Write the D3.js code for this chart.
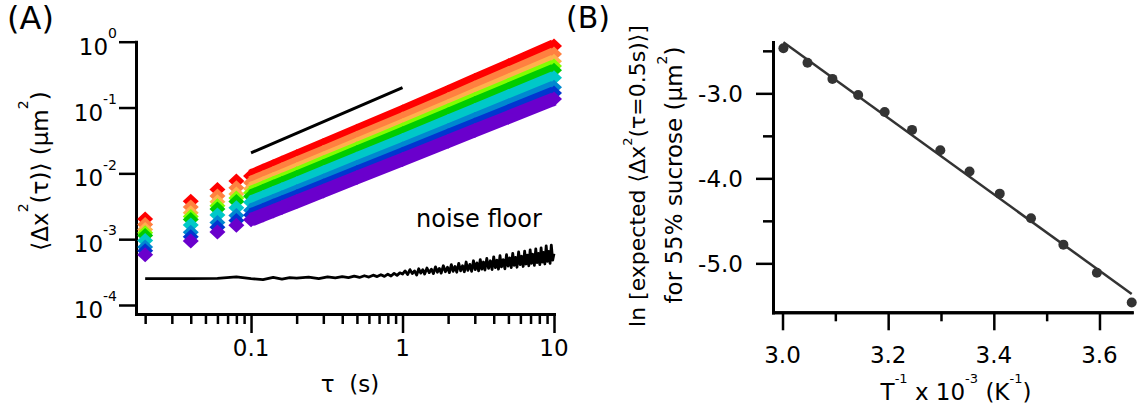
<!DOCTYPE html>
<html>
<head>
<meta charset="utf-8">
<script src="https://cdn.jsdelivr.net/npm/d3@7"></script>
<style>
  body { margin: 0; background: #fff; }
  svg { display: block; font-family: "DejaVu Sans", sans-serif; }
</style>
</head>
<body>
<script>
// ---- panel A : MSD vs lag time ----
var tau = [0.02, 0.04, 0.06, 0.08, 0.1, 0.12, 0.14, 0.16, 0.2, 0.3, 0.5, 1, 2, 3, 5, 10];
var msdRed      = [2.02e-3, 3.78e-3, 5.68e-3, 7.62e-3, 9.08e-3, 1.084e-2, 1.259e-2, 1.436e-2, 1.782e-2, 2.649e-2, 4.355e-2, 8.55e-2, 0.171, 0.258, 0.430, 0.861];
var msdOrange   = [1.675e-3, 3.07e-3, 4.54e-3, 6.04e-3, 7.21e-3, 8.61e-3, 9.98e-3, 1.138e-2, 1.409e-2, 2.084e-2, 3.42e-2, 6.67e-2, 0.132, 0.198, 0.328, 0.652];
var msdLtOrange = [1.406e-3, 2.52e-3, 3.69e-3, 4.86e-3, 5.82e-3, 6.93e-3, 8.04e-3, 9.14e-3, 1.132e-2, 1.671e-2, 2.72e-2, 5.28e-2, 0.104, 0.155, 0.255, 0.504];
var msdLtGreen  = [1.256e-3, 2.22e-3, 3.23e-3, 4.24e-3, 5.08e-3, 6.04e-3, 7.00e-3, 7.94e-3, 9.82e-3, 1.445e-2, 2.355e-2, 4.55e-2, 8.91e-2, 0.132, 0.217, 0.426];
var msdGreen    = [1.138e-3, 1.99e-3, 2.87e-3, 3.74e-3, 4.50e-3, 5.35e-3, 6.18e-3, 7.01e-3, 8.67e-3, 1.274e-2, 2.07e-2, 3.99e-2, 7.76e-2, 0.115, 0.188, 0.367];
var msdCyan     = [9.55e-4, 1.637e-3, 2.33e-3, 3.01e-3, 3.63e-3, 4.31e-3, 4.98e-3, 5.64e-3, 6.95e-3, 1.019e-2, 1.648e-2, 3.16e-2, 6.11e-2, 8.99e-2, 0.147, 0.283];
var msdBlue     = [7.62e-4, 1.274e-3, 1.786e-3, 2.28e-3, 2.75e-3, 3.27e-3, 3.77e-3, 4.27e-3, 5.25e-3, 7.66e-3, 1.233e-2, 2.34e-2, 4.49e-2, 6.56e-2, 0.106, 0.203];
var msdDkBlue   = [6.65e-4, 1.091e-3, 1.517e-3, 1.923e-3, 2.33e-3, 2.75e-3, 3.18e-3, 3.59e-3, 4.42e-3, 6.43e-3, 1.030e-2, 1.954e-2, 3.72e-2, 5.42e-2, 8.71e-2, 0.166];
var msdPurple   = [5.79e-4, 9.35e-4, 1.288e-3, 1.622e-3, 1.968e-3, 2.33e-3, 2.68e-3, 3.03e-3, 3.72e-3, 5.40e-3, 8.63e-3, 1.629e-2, 3.08e-2, 4.47e-2, 7.14e-2, 0.135];
var seriesA = [msdRed, msdOrange, msdLtOrange, msdLtGreen, msdGreen, msdCyan, msdBlue, msdDkBlue, msdPurple];
var colorsA = ["#ff0000", "#ff8040", "#ffb04c", "#80ff00", "#00cc00", "#00c8c8", "#0088d0", "#0036d0", "#6a00cc"];

// slope-1 guide line
var refTau = [0.1, 1];
var refMsd = [0.0205, 0.2];

// noise floor
var noiseTau = [0.02, 0.04, 0.06, 0.08, 0.10, 0.12, 0.14, 0.16, 0.18, 0.20, 0.24, 0.28, 0.32, 0.36, 0.40, 0.44, 0.48, 0.52, 0.56, 0.60,
  0.64, 0.68, 0.72, 0.76, 0.80, 0.84, 0.88, 0.92, 0.96,
  1.00, 1.04, 1.08, 1.12, 1.16, 1.20, 1.24, 1.28, 1.32, 1.36, 1.40, 1.45, 1.50, 1.55, 1.60, 1.65, 1.70, 1.75, 1.80, 1.86,
  1.92, 1.98, 2.04, 2.10, 2.16, 2.22, 2.28, 2.35, 2.42, 2.49, 2.56, 2.63, 2.70, 2.78, 2.86, 2.94, 3.02, 3.10, 3.18, 3.26,
  3.34, 3.42, 3.50, 3.60, 3.70, 3.80, 3.90, 4.00, 4.10, 4.20, 4.30, 4.40, 4.50, 4.62, 4.74, 4.86, 4.98, 5.10, 5.22, 5.34,
  5.46, 5.58, 5.70, 5.84, 5.98, 6.12, 6.26, 6.40, 6.54, 6.68, 6.82, 6.96, 7.10, 7.26, 7.42, 7.58, 7.74, 7.90, 8.06, 8.22,
  8.38, 8.54, 8.70, 8.88, 9.06, 9.24, 9.42, 9.60, 9.80, 10.0];
var noiseMsd = [2.52e-4, 2.52e-4, 2.54e-4, 2.68e-4, 2.52e-4, 2.43e-4, 2.63e-4, 2.47e-4, 2.60e-4, 2.56e-4, 2.66e-4, 2.52e-4, 2.68e-4, 2.58e-4, 2.70e-4, 2.60e-4, 2.74e-4, 2.62e-4, 2.78e-4, 2.66e-4,
  2.84e-4, 2.70e-4, 2.88e-4, 2.72e-4, 2.94e-4, 2.76e-4, 3.02e-4, 2.82e-4, 3.08e-4,
  2.95e-4, 3.3e-4, 2.9e-4, 3.45e-4, 3.0e-4, 3.3e-4, 2.85e-4, 3.55e-4, 3.05e-4, 3.45e-4, 2.95e-4, 3.65e-4, 3.1e-4, 3.5e-4, 3.0e-4, 3.8e-4, 3.15e-4, 3.6e-4, 3.05e-4, 3.95e-4,
  3.2e-4, 3.75e-4, 3.1e-4, 4.1e-4, 3.25e-4, 3.85e-4, 3.15e-4, 4.3e-4, 3.3e-4, 3.95e-4, 3.2e-4, 4.5e-4, 3.35e-4, 4.15e-4, 3.25e-4, 4.7e-4, 3.45e-4, 4.35e-4, 3.3e-4, 4.9e-4,
  3.5e-4, 4.5e-4, 3.4e-4, 5.1e-4, 3.6e-4, 4.7e-4, 3.45e-4, 5.4e-4, 3.7e-4, 4.8e-4, 3.5e-4, 5.6e-4, 3.8e-4, 4.9e-4, 3.55e-4, 5.8e-4, 3.9e-4, 5.2e-4, 3.7e-4, 6.1e-4,
  4.0e-4, 5.3e-4, 3.75e-4, 6.4e-4, 4.1e-4, 5.5e-4, 3.85e-4, 6.6e-4, 4.2e-4, 5.7e-4, 3.95e-4, 6.9e-4, 4.3e-4, 5.9e-4, 4.0e-4, 7.1e-4, 4.4e-4, 6.1e-4, 4.1e-4, 7.4e-4,
  4.5e-4, 6.3e-4, 4.2e-4, 7.9e-4, 4.6e-4, 6.5e-4, 4.3e-4, 8.1e-4, 4.8e-4, 6.0e-4];

var xTicksA = [0.1, 1, 10];
var xLabelsA = ["0.1", "1", "10"];
var yTicksA = [1, 0.1, 0.01, 0.001, 0.0001];
var yExpA = ["0", "-1", "-2", "-3", "-4"];

// ---- panel B : Arrhenius plot ----
var invT = [3.0017, 3.0473, 3.0945, 3.1432, 3.1934, 3.2452, 3.2987, 3.3540, 3.4112, 3.4704, 3.5317, 3.5951, 3.6610];
var lnMsd = [-2.47, -2.64, -2.83, -3.02, -3.22, -3.43, -3.67, -3.92, -4.18, -4.47, -4.78, -5.11, -5.46];
var fitX = [3.0017, 3.661];
var fitY = [-2.40, -5.36];
var xTicksB = [3.0, 3.2, 3.4, 3.6];
var xMinorB = [3.1, 3.3, 3.5];
var yTicksB = [-3.0, -4.0, -5.0];
var yMinorB = [-2.5, -3.5, -4.5];

var svg = d3.select("body").append("svg")
  .attr("width", 1147)
  .attr("height", 413);

// text with superscripts: parts = [text, fontSize, rise]
function richText(sel, parts) {
  var shift = 0;
  parts.forEach(function(p) {
    var rise = p[2] || 0;
    sel.append("tspan")
      .attr("dy", shift - rise)
      .attr("font-size", p[1] || null)
      .text(p[0]);
    shift = rise;
  });
  return sel;
}

function styleAxis(g) {
  g.select(".domain").attr("stroke-width", 3).attr("stroke-linecap", "square");
  g.selectAll(".tick line").attr("stroke-width", 2.5);
}

// ================= panel A =================
var xA = d3.scaleLog().domain([0.0174, 10]).range([136, 554]);
var yA = d3.scaleLog().domain([7.3e-5, 1]).range([314, 41.7]);

var minorA = xA.ticks().filter(function(t) { return xTicksA.indexOf(t) < 0; });

svg.append("g").attr("transform", "translate(0,314)")
  .call(d3.axisBottom(xA).tickValues(minorA).tickSize(10).tickSizeOuter(0).tickFormat(""))
  .call(styleAxis);
svg.append("g").attr("transform", "translate(0,314)")
  .call(d3.axisBottom(xA).tickValues(xTicksA).tickSize(19).tickSizeOuter(0).tickFormat(""))
  .call(styleAxis);
svg.append("g").attr("transform", "translate(136,0)")
  .call(d3.axisLeft(yA).tickValues(yTicksA).tickSize(17).tickSizeOuter(0).tickFormat(""))
  .call(styleAxis);

//x tick labels
xTicksA.forEach(function(t, i) {
  svg.append("text")
    .attr("x", xA(t)).attr("y", 356)
    .attr("text-anchor", "middle")
    .attr("font-size", 23)
    .text(xLabelsA[i]);
});
//y tick labels 10^n
yTicksA.forEach(function(t, i) {
  var lab = svg.append("text")
    .attr("x", 117).attr("y", yA(t) + 13)
    .attr("text-anchor", "end")
    .attr("font-size", 23);
  richText(lab, [["10"], [yExpA[i], 14, 16.7]]);
});

// data series: thick band from 0.1 s onward + diamond markers
var bandLine = d3.line()
  .x(function(d) { return xA(d[0]); })
  .y(function(d) { return yA(d[1]); });

function diamond(d) {
  var x = xA(d[0]), y = yA(d[1]);
  return "M" + x + "," + (y - 7.5) + "L" + (x + 8) + "," + y + "L" + x + "," + (y + 7.5) + "L" + (x - 8) + "," + y + "Z";
}

seriesA.forEach(function(vals, s) {
  var pts = tau.map(function(t, i) { return [t, vals[i]]; });
  svg.append("path")
    .datum(pts.filter(function(d) { return d[0] >= 0.1; }))
    .attr("d", bandLine)
    .attr("fill", "none")
    .attr("stroke", colorsA[s])
    .attr("stroke-width", 13.5);
  svg.append("g").selectAll("path")
    .data(pts)
    .enter().append("path")
    .attr("d", diamond)
    .attr("fill", colorsA[s]);
});

// slope-1 guide
svg.append("path")
  .datum(refTau.map(function(t, i) { return [t, refMsd[i]]; }))
  .attr("d", bandLine)
  .attr("fill", "none")
  .attr("stroke", "black")
  .attr("stroke-width", 3);

// noise floor
svg.append("path")
  .datum(noiseTau.map(function(t, i) { return [t, noiseMsd[i]]; }))
  .attr("d", bandLine)
  .attr("fill", "none")
  .attr("stroke", "black")
  .attr("stroke-width", 2.8)
  .attr("stroke-linejoin", "round");

svg.append("text")
  .attr("x", 416).attr("y", 227)
  .attr("font-size", 24)
  .text("noise floor");

//axis titles
svg.append("text")
  .attr("x", 350).attr("y", 392)
  .attr("text-anchor", "middle")
  .attr("font-size", 23)
  .text("\u03c4\u00a0\u00a0(s)");

var yTitleA = svg.append("text")
  .attr("transform", "translate(48,171) rotate(-90)")
  .attr("text-anchor", "middle")
  .attr("font-size", 23);
richText(yTitleA, [["\u27e8\u0394x"], ["2", 14, 20], ["(\u03c4)\u27e9 (\u03bcm"], ["2", 14, 20], [")"]]);

svg.append("text")
  .attr("x", 7).attr("y", 29)
  .attr("font-size", 32)
  .text("(A)");

// ================= panel B =================
var xB = d3.scaleLinear().domain([2.982, 3.661]).range([773, 1131.7]);
var yB = d3.scaleLinear().domain([-5.576, -2.396]).range([312.3, 42]);

svg.append("g").attr("transform", "translate(0,312.3)")
  .call(d3.axisBottom(xB).tickValues(xMinorB).tickSize(9).tickSizeOuter(0).tickFormat(""))
  .call(styleAxis);
svg.append("g").attr("transform", "translate(0,312.3)")
  .call(d3.axisBottom(xB).tickValues(xTicksB).tickSize(18).tickSizeOuter(0).tickFormat(""))
  .call(styleAxis);
svg.append("g").attr("transform", "translate(773,0)")
  .call(d3.axisLeft(yB).tickValues(yMinorB).tickSize(10).tickSizeOuter(0).tickFormat(""))
  .call(styleAxis);
svg.append("g").attr("transform", "translate(773,0)")
  .call(d3.axisLeft(yB).tickValues(yTicksB).tickSize(17).tickSizeOuter(0).tickFormat(""))
  .call(styleAxis);

xTicksB.forEach(function(t) {
  svg.append("text")
    .attr("x", xB(t)).attr("y", 363)
    .attr("text-anchor", "middle")
    .attr("font-size", 23)
    .text(d3.format(".1f")(t));
});
yTicksB.forEach(function(t) {
  svg.append("text")
    .attr("x", 743).attr("y", yB(t) + 8.5)
    .attr("text-anchor", "end")
    .attr("font-size", 23)
    .text(d3.format(".1f")(t).replace("\u2212", "-"));
});

// fit line
svg.append("path")
  .datum(fitX.map(function(x, i) { return [x, fitY[i]]; }))
  .attr("d", d3.line().x(function(d) { return xB(d[0]); }).y(function(d) { return yB(d[1]); }))
  .attr("stroke", "#333")
  .attr("stroke-width", 2.5)
  .attr("fill", "none");

// points
svg.append("g").selectAll("circle")
  .data(invT)
  .enter().append("circle")
  .attr("cx", function(d) { return xB(d); })
  .attr("cy", function(d, i) { return yB(lnMsd[i]); })
  .attr("r", 5)
  .attr("fill", "#333");

var xTitleB = svg.append("text")
  .attr("x", 956).attr("y", 400)
  .attr("text-anchor", "middle")
  .attr("font-size", 23);
richText(xTitleB, [["T"], ["-1", 13, 17], [" x 10"], ["-3", 13, 17], [" (K"], ["-1", 13, 17], [")"]]);

var yTitleB1 = svg.append("text")
  .attr("transform", "translate(645,176) rotate(-90)")
  .attr("text-anchor", "middle")
  .attr("font-size", 22);
richText(yTitleB1, [["ln [expected \u27e8\u0394x"], ["2", 13, 13], ["(\u03c4=0.5s)\u27e9]"]]);

var yTitleB2 = svg.append("text")
  .attr("transform", "translate(682,175) rotate(-90)")
  .attr("text-anchor", "middle")
  .attr("font-size", 23);
richText(yTitleB2, [["for 55% sucrose (\u03bcm"], ["2", 14, 15], [")"]]);

svg.append("text")
  .attr("x", 566).attr("y", 28)
  .attr("font-size", 30)
  .text("(B)");
</script>
</body>
</html>
